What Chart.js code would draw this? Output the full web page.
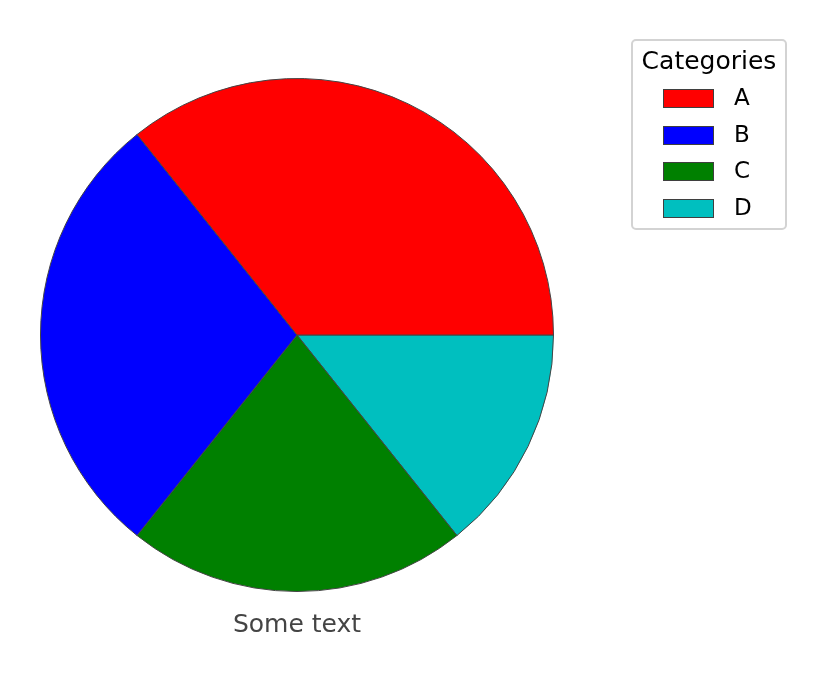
<!DOCTYPE html>
<html>
<head>
<meta charset="utf-8">
<script src="https://cdn.jsdelivr.net/npm/chart.js"></script>
<style>
  body { margin: 0; background: #fff; font-family: "DejaVu Sans", sans-serif; }
  #wrap { position: relative; width: 825px; height: 676px; }
  #legend {
    position: absolute; left: 631px; top: 39px; width: 152px; height: 187px;
    border: 2px solid #d3d3d3; border-radius: 5px; background: #fff;
  }
  #legend .title { position: absolute; left: 0; width: 100%; top: 5px; text-align: center; font-size: 25px; color: #000; }
  #legend .item { position: absolute; left: 30px; height: 22px; font-size: 23px; color: #000; }
  #legend .swatch { position: absolute; left: 0; top: 2px; width: 49px; height: 17px; border: 1px solid #3f3f3f; }
  #legend .lbl { position: absolute; left: 71px; top: -3px; }
  #caption { position: absolute; left: 0; width: 594px; top: 609px; text-align: center; font-size: 25px; color: #444; }
</style>
</head>
<body>
<div id="wrap">
  <canvas id="pie" width="825" height="676"></canvas>
  <div id="legend"></div>
  <div id="caption">Some text</div>
</div>
<script>
const categories = ["A", "B", "C", "D"];
const values = [50, 40, 30, 20];
const colors = ["#ff0000", "#0000ff", "#008000", "#00bfbf"];
const legendTitle = "Categories";

// matplotlib goes counter-clockwise from 3 o'clock, Chart.js goes clockwise,
// so feed the slices in reverse order starting at 3 o'clock
const revLabels = categories.slice().reverse();
const revValues = values.slice().reverse();
const revColors = colors.slice().reverse();

new Chart(document.getElementById("pie"), {
  type: "pie",
  data: {
    labels: revLabels,
    datasets: [{
      data: revValues,
      backgroundColor: revColors,
      borderColor: "#444444",
      borderWidth: 1
    }]
  },
  options: {
    responsive: false,
    animation: false,
    rotation: 90,
    layout: { padding: { left: 40, right: 271, top: 78, bottom: 84 } },
    plugins: {
      legend: { display: false },
      tooltip: { enabled: false }
    }
  }
});

// legend box
const legend = document.getElementById("legend");
const title = document.createElement("div");
title.className = "title";
title.textContent = legendTitle;
legend.appendChild(title);
categories.forEach((cat, i) => {
  const item = document.createElement("div");
  item.className = "item";
  item.style.top = (46 + i * 36.5) + "px";
  const sw = document.createElement("div");
  sw.className = "swatch";
  sw.style.background = colors[i];
  const lbl = document.createElement("div");
  lbl.className = "lbl";
  lbl.textContent = cat;
  item.appendChild(sw);
  item.appendChild(lbl);
  legend.appendChild(item);
});
</script>
</body>
</html>
